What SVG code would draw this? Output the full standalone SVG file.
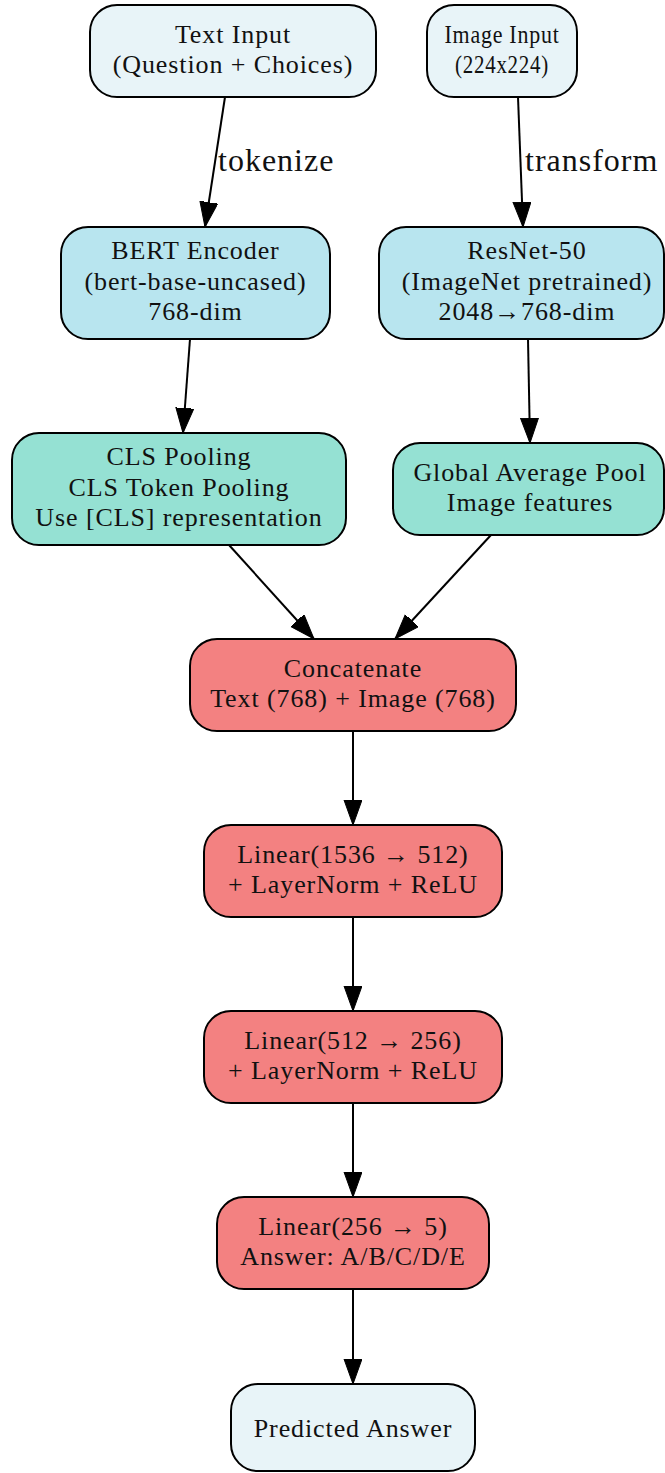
<svg xmlns="http://www.w3.org/2000/svg" width="665" height="1473" viewBox="0 0 665 1473">
<defs>
<style>
.n{stroke:#000;stroke-width:2}
.in{fill:#e8f4f8}
.enc{fill:#b8e5ef}
.pool{fill:#95e1d3}
.fus{fill:#f38181}
text{font-family:"Liberation Serif","Times New Roman",serif;fill:#111}
.t{font-size:26px;letter-spacing:0.9px;text-anchor:middle}
.lbl{font-size:32px;letter-spacing:1px}
.e{stroke:#000;stroke-width:2;fill:none;marker-end:url(#ah)}
</style>
<marker id="ah" markerUnits="userSpaceOnUse" markerWidth="26" markerHeight="20" refX="25" refY="9" orient="auto" viewBox="0 0 26 20">
<path d="M0,0 L25,9 L0,18 Z" fill="#000" stroke="#000" stroke-width="1"/>
</marker>
</defs>
<rect width="665" height="1473" fill="#fff"/>
<g id="edges">
<line class="e" x1="225" y1="97" x2="205" y2="227"/>
<line class="e" x1="518" y1="97" x2="523" y2="227"/>
<line class="e" x1="190" y1="339" x2="183" y2="433"/>
<line class="e" x1="528" y1="339" x2="530" y2="443"/>
<line class="e" x1="229" y1="545" x2="314" y2="639"/>
<line class="e" x1="491" y1="535" x2="395" y2="639"/>
<line class="e" x1="353" y1="731" x2="353" y2="825"/>
<line class="e" x1="353" y1="917" x2="353" y2="1011"/>
<line class="e" x1="353" y1="1103" x2="353" y2="1197"/>
<line class="e" x1="353" y1="1289" x2="353" y2="1384"/>
<text class="lbl" x="218" y="171">tokenize</text>
<text class="lbl" x="525" y="171">transform</text>
</g>
<g id="text_input">
<rect class="n in" x="90" y="5" width="286" height="92" rx="27"/>
<text class="t" x="233" y="43">Text Input</text>
<text class="t" x="233" y="73">(Question + Choices)</text>
</g>
<g id="image_input">
<rect class="n in" x="427" y="5" width="150" height="92" rx="27"/>
<text class="t" x="502" y="43" textLength="115" lengthAdjust="spacingAndGlyphs">Image Input</text>
<text class="t" x="502" y="73" textLength="94" lengthAdjust="spacingAndGlyphs">(224x224)</text>
</g>
<g id="bert">
<rect class="n enc" x="61" y="227" width="269" height="112" rx="27"/>
<text class="t" x="195.5" y="259">BERT Encoder</text>
<text class="t" x="195.5" y="290">(bert-base-uncased)</text>
<text class="t" x="195.5" y="320">768-dim</text>
</g>
<g id="resnet">
<rect class="n enc" x="379" y="227" width="285" height="112" rx="27"/>
<text class="t" x="527" y="259">ResNet-50</text>
<text class="t" x="527" y="290">(ImageNet pretrained)</text>
<text class="t" x="527" y="320">2048→768-dim</text>
</g>
<g id="cls_pool">
<rect class="n pool" x="12" y="433" width="334" height="112" rx="27"/>
<text class="t" x="179" y="465">CLS Pooling</text>
<text class="t" x="179" y="496">CLS Token Pooling</text>
<text class="t" x="179" y="526">Use [CLS] representation</text>
</g>
<g id="gap">
<rect class="n pool" x="393" y="443" width="271" height="92" rx="27"/>
<text class="t" x="530" y="481">Global Average Pool</text>
<text class="t" x="530" y="511">Image features</text>
</g>
<g id="concat">
<rect class="n fus" x="190" y="639" width="326" height="92" rx="27"/>
<text class="t" x="353" y="677">Concatenate</text>
<text class="t" x="353" y="707">Text (768) + Image (768)</text>
</g>
<g id="linear1">
<rect class="n fus" x="204" y="825" width="298" height="92" rx="27"/>
<text class="t" x="353" y="863">Linear(1536 → 512)</text>
<text class="t" x="353" y="893">+ LayerNorm + ReLU</text>
</g>
<g id="linear2">
<rect class="n fus" x="204" y="1011" width="298" height="92" rx="27"/>
<text class="t" x="353" y="1049">Linear(512 → 256)</text>
<text class="t" x="353" y="1079">+ LayerNorm + ReLU</text>
</g>
<g id="linear3">
<rect class="n fus" x="217" y="1197" width="272" height="92" rx="27"/>
<text class="t" x="353" y="1235">Linear(256 → 5)</text>
<text class="t" x="353" y="1265">Answer: A/B/C/D/E</text>
</g>
<g id="predicted">
<rect class="n in" x="231" y="1384" width="244" height="87" rx="27"/>
<text class="t" x="353" y="1437">Predicted Answer</text>
</g>
</svg>
